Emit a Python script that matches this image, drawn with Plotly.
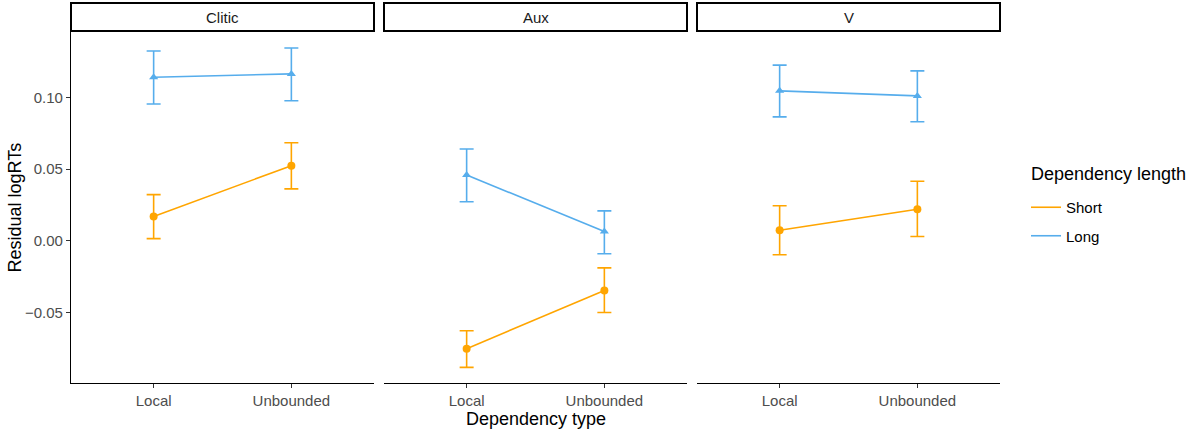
import plotly.graph_objects as go

panels = ["Clitic", "Aux", "V"]
dep_types = ["Local", "Unbounded"]
y_ticks = [-0.05, 0.0, 0.05, 0.10]
y_tick_labels = ["\u22120.05", "0.00", "0.05", "0.10"]

# Short dependency length: mean, lower, upper per panel (Local, Unbounded)
short_mean = {"Clitic": [0.0169, 0.0524], "Aux": [-0.0751, -0.0346], "V": [0.0074, 0.0220]}
short_low = {"Clitic": [0.0016, 0.0362], "Aux": [-0.0881, -0.0499], "V": [-0.0097, 0.0030]}
short_high = {"Clitic": [0.0322, 0.0684], "Aux": [-0.0626, -0.0188], "V": [0.0245, 0.0415]}

# Long dependency length
long_mean = {"Clitic": [0.1140, 0.1163], "Aux": [0.0459, 0.0065], "V": [0.1045, 0.1010]}
long_low = {"Clitic": [0.0953, 0.0976], "Aux": [0.0273, -0.0090], "V": [0.0864, 0.0830]}
long_high = {"Clitic": [0.1323, 0.1344], "Aux": [0.0640, 0.0209], "V": [0.1224, 0.1184]}

ORANGE = "#FFA500"
BLUE = "#56ADEC"
W, H = 1190, 430
FONT = "Liberation Sans, Arial, sans-serif"

panel_px = [(71, 374), (384, 687), (697, 1000)]
top_px, bot_px = 32, 383
y_range = [-0.099, 0.1455]

fig = go.Figure()
layout_axes = {}
for i, p in enumerate(panels):
    idx = "" if i == 0 else str(i + 1)
    xa, ya = "x" + idx, "y" + idx
    for mean, lo, hi, col, sym in [
        (short_mean, short_low, short_high, ORANGE, "circle"),
        (long_mean, long_low, long_high, BLUE, "triangle-up"),
    ]:
        m = mean[p]
        fig.add_trace(go.Scatter(
            x=dep_types, y=m, mode="lines+markers",
            line=dict(color=col, width=1.6),
            marker=dict(color=col, size=8, symbol=sym),
            error_y=dict(type="data", symmetric=False,
                         array=[h - v for h, v in zip(hi[p], m)],
                         arrayminus=[v - l for v, l in zip(m, lo[p])],
                         color=col, thickness=1.6, width=7),
            xaxis=xa, yaxis=ya, showlegend=False, hoverinfo="skip",
        ))
    x0, x1 = panel_px[i]
    layout_axes["xaxis" + idx] = dict(
        domain=[x0 / W, x1 / W], anchor=ya, type="category",
        range=[-0.6, 1.6], showgrid=False, zeroline=False,
        showline=True, linecolor="black", linewidth=1.2,
        ticks="outside", ticklen=4, tickcolor="#333333", tickwidth=1.1,
        tickfont=dict(family=FONT, size=15, color="#4D4D4D"),
        fixedrange=True, automargin=False,
    )
    ydict = dict(
        domain=[(H - bot_px) / H, (H - top_px) / H], anchor=xa,
        range=y_range, showgrid=False, zeroline=False, fixedrange=True,
        automargin=False,
    )
    if i == 0:
        ydict.update(showline=True, linecolor="black", linewidth=1.2,
                     ticks="outside", ticklen=4, tickcolor="#333333", tickwidth=1.1,
                     tickvals=y_ticks, ticktext=y_tick_labels,
                     tickfont=dict(family=FONT, size=15, color="#4D4D4D"))
    else:
        ydict.update(showline=False, showticklabels=False, ticks="")
    layout_axes["yaxis" + idx] = ydict

    # strip
    fig.add_shape(type="rect", xref="paper", yref="paper",
                  x0=x0 / W, x1=x1 / W, y0=(H - 31) / H, y1=(H - 3) / H,
                  line=dict(color="black", width=2), fillcolor="white", layer="below")
    fig.add_annotation(x=(x0 + x1) / 2 / W, y=(H - 17) / H, xref="paper", yref="paper",
                       text=p, showarrow=False, xanchor="center", yanchor="middle",
                       font=dict(family=FONT, size=15, color="#1A1A1A"))

# legend entries (lines only)
fig.add_trace(go.Scatter(x=[None], y=[None], mode="lines", name="Short", legendgroup="s",
                         line=dict(color=ORANGE, width=1.6), showlegend=True))
fig.add_trace(go.Scatter(x=[None], y=[None], mode="lines", name="Long", legendgroup="l",
                         line=dict(color=BLUE, width=1.6), showlegend=True))

fig.add_annotation(x=14 / W, y=(H - (top_px + bot_px) / 2) / H, xref="paper", yref="paper",
                   text="Residual logRTs", textangle=-90, showarrow=False,
                   xanchor="center", yanchor="middle",
                   font=dict(family=FONT, size=18, color="black"))
fig.add_annotation(x=((71 + 1000) / 2) / W, y=(H - 419) / H, xref="paper", yref="paper",
                   text="Dependency type", showarrow=False,
                   xanchor="center", yanchor="middle",
                   font=dict(family=FONT, size=18, color="black"))
# legend title
fig.add_annotation(x=1029 / W, y=(H - 174) / H, xref="paper", yref="paper",
                   text="Dependency length", showarrow=False,
                   xanchor="left", yanchor="middle",
                   font=dict(family=FONT, size=18, color="black"))

fig.update_layout(
    width=W, height=H, autosize=False,
    margin=dict(l=0, r=0, t=0, b=0, autoexpand=False),
    paper_bgcolor="white", plot_bgcolor="white",
    legend=dict(x=1026 / W, y=(H - 191) / H, xanchor="left", yanchor="top",
                font=dict(family=FONT, size=15, color="black"),
                bgcolor="rgba(0,0,0,0)", tracegroupgap=6, itemwidth=30),
    **layout_axes,
)

fig.write_html("out.html", post_script="document.body.style.margin='0';",
               config={"displayModeBar": False})
